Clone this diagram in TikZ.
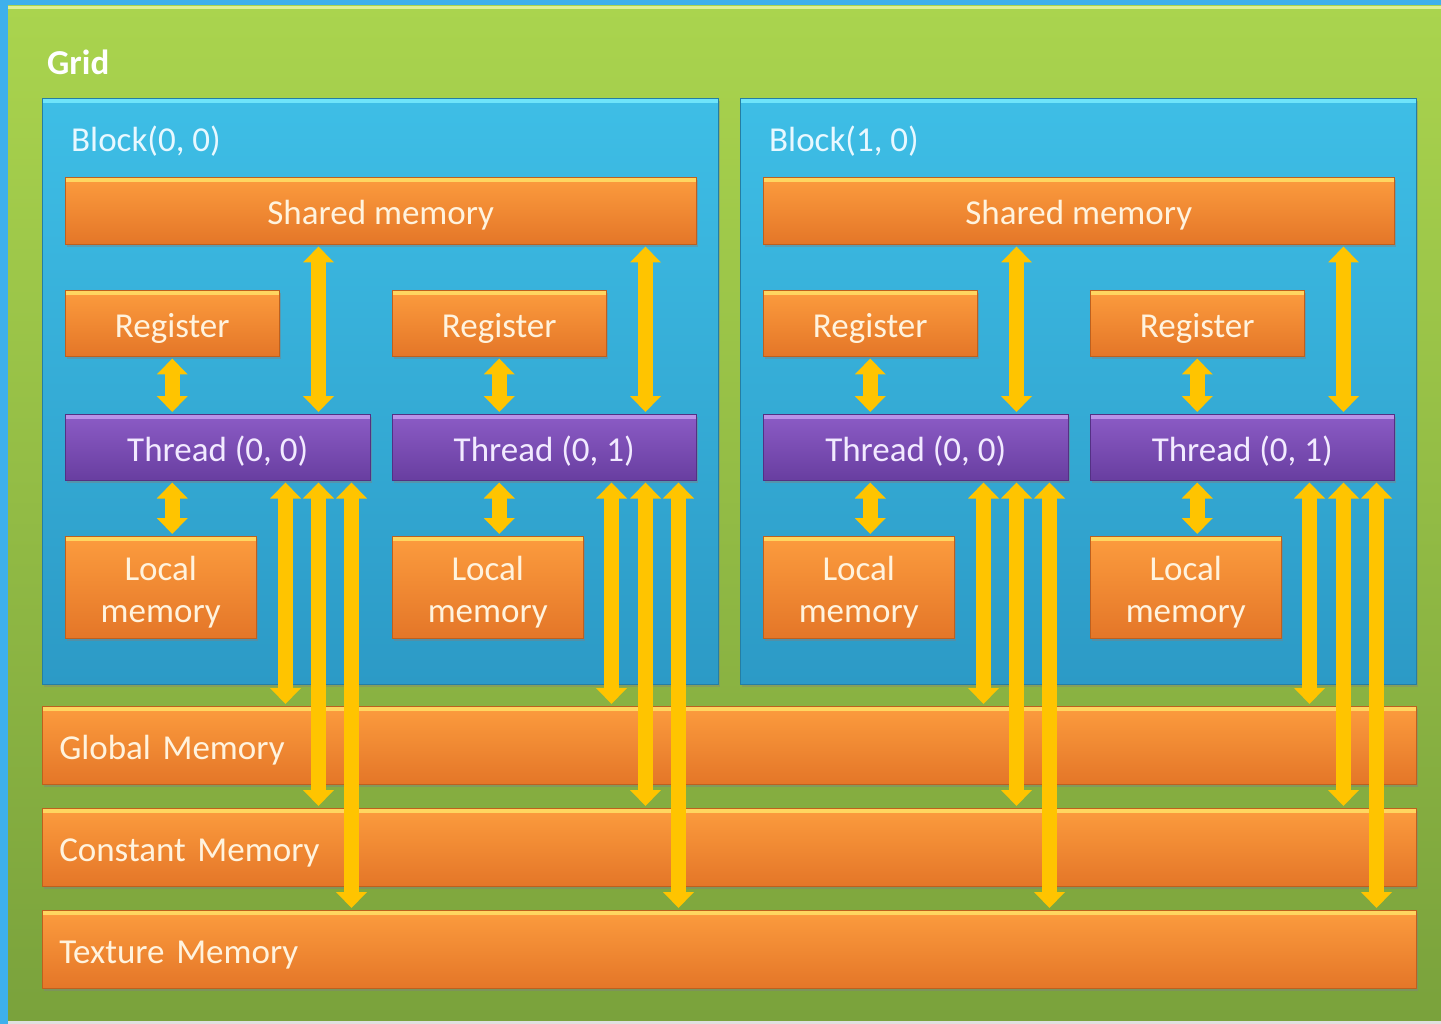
\documentclass[tikz,border=0pt]{standalone}
\usepackage{fontspec}
\setmainfont{Carlito}
\usetikzlibrary{arrows.meta,shadows}

\definecolor{bgblue}{RGB}{62,176,236}
\definecolor{grTop}{RGB}{170,212,78}
\definecolor{grBot}{RGB}{122,162,60}
\definecolor{grHi}{RGB}{222,240,150}
\definecolor{blTop}{RGB}{62,190,230}
\definecolor{blBot}{RGB}{44,154,198}
\definecolor{blEdge}{RGB}{36,126,164}
\definecolor{blHi}{RGB}{110,228,250}
\definecolor{orTop}{RGB}{252,156,62}
\definecolor{orBot}{RGB}{228,118,40}
\definecolor{orEdge}{RGB}{190,96,30}
\definecolor{orHi}{RGB}{255,214,96}
\definecolor{thTop}{RGB}{140,92,198}
\definecolor{thBot}{RGB}{104,62,160}
\definecolor{thEdge}{RGB}{84,48,132}
\definecolor{thHi}{RGB}{186,146,232}
\definecolor{arr}{RGB}{255,196,0}
\definecolor{txtOr}{RGB}{255,243,222}
\definecolor{txtTh}{RGB}{242,234,255}
\definecolor{txtBl}{RGB}{232,248,255}

\newcommand{\lbl}{\fontsize{35}{42}\selectfont}

\begin{document}
\begin{tikzpicture}[x=1pt,y=-1pt,
  hi/.style={path picture={\draw[line width=9pt,#1] (path picture bounding box.north west) -- (path picture bounding box.north east);}},
  mem/.style={anchor=north west,inner sep=0pt,draw=orEdge,line width=.5pt,
    top color=orTop,bottom color=orBot,text=txtOr,font=\lbl,align=center,
    text height=28pt,text depth=0pt,
    drop shadow={shadow xshift=2pt,shadow yshift=-3pt,opacity=.45},hi=orHi},
  thr/.style={mem,draw=thEdge,top color=thTop,bottom color=thBot,text=txtTh,hi=thHi},
  loc/.style={mem,minimum width=191pt,minimum height=102pt,text height=70pt},
  bar/.style={mem,minimum width=1374pt,minimum height=78pt,text width=1340pt,
    align=left,inner xsep=17pt},
  blk/.style={anchor=north west,inner sep=0pt,minimum width=676pt,minimum height=586pt,
    draw=blEdge,line width=.5pt,top color=blTop,bottom color=blBot,
    drop shadow={shadow xshift=2pt,shadow yshift=-3pt,opacity=.4},hi=blHi},
  txt/.style={anchor=west,inner sep=0pt,font=\lbl},
  dbl/.style={{Triangle[width=30pt,length=16pt]}-{Triangle[width=30pt,length=16pt]},
    line width=15pt,draw=arr,shorten <=2pt,shorten >=2pt}]
\useasboundingbox (0,0) rectangle (1441,1024);
\fill[bgblue] (0,0) rectangle (1441,1024);
\fill[black!12] (8,1020) rectangle (1441,1024);
\shade[top color=grTop,bottom color=grBot] (8,6) rectangle (1441,1020);
\draw[grHi,line width=3pt] (8,7.5) -- (1441,7.5);
\node[txt,font=\bfseries\lbl,text=white] (gridlbl) at (47,62) {Grid};
% memories shared by the whole grid
\node[bar] (glob) at (42,706) {Global Memory};
\node[bar] (cons) at (42,808) {Constant Memory};
\node[bar] (tex) at (42,910) {Texture Memory};
% Block(0, 0)
\node[blk] (blkA) at (42,98) {};
\node[txt,text=txtBl] (blkAlbl) at (71,141) {Block(0, 0)};
\node[mem,minimum width=631pt,minimum height=67pt] (shA) at (65,177) {Shared memory};
\node[mem,minimum width=214pt,minimum height=66pt] (regA1) at (65,290) {Register};
\node[mem,minimum width=214pt,minimum height=66pt] (regA2) at (392,290) {Register};
\node[thr,minimum width=305pt,minimum height=66pt] (thA1) at (65,414) {Thread (0, 0)};
\node[thr,minimum width=304pt,minimum height=66pt] (thA2) at (392,414) {Thread (0, 1)};
\node[loc] (locA1) at (65,536) {Local\\memory};
\node[loc] (locA2) at (392,536) {Local\\memory};
\draw[dbl] (regA1.south) -- (regA1.south |- thA1.north);
\draw[dbl] (regA1.south |- thA1.south) -- (regA1.south |- locA1.north);
\draw[dbl] ([xshift=-52pt]thA1.north east) -- ([xshift=-52pt]thA1.north east |- shA.south);
\draw[dbl] ([xshift=-85pt]thA1.south east) -- ([xshift=-85pt]thA1.south east |- glob.north);
\draw[dbl] ([xshift=-52pt]thA1.south east) -- ([xshift=-52pt]thA1.south east |- cons.north);
\draw[dbl] ([xshift=-19pt]thA1.south east) -- ([xshift=-19pt]thA1.south east |- tex.north);
\draw[dbl] (regA2.south) -- (regA2.south |- thA2.north);
\draw[dbl] (regA2.south |- thA2.south) -- (regA2.south |- locA2.north);
\draw[dbl] ([xshift=-51pt]thA2.north east) -- ([xshift=-51pt]thA2.north east |- shA.south);
\draw[dbl] ([xshift=-85pt]thA2.south east) -- ([xshift=-85pt]thA2.south east |- glob.north);
\draw[dbl] ([xshift=-51pt]thA2.south east) -- ([xshift=-51pt]thA2.south east |- cons.north);
\draw[dbl] ([xshift=-18pt]thA2.south east) -- ([xshift=-18pt]thA2.south east |- tex.north);
% Block(1, 0)
\begin{scope}[shift={(698,0)}]
\node[blk] (blkB) at (42,98) {};
\node[txt,text=txtBl] (blkBlbl) at (71,141) {Block(1, 0)};
\node[mem,minimum width=631pt,minimum height=67pt] (shB) at (65,177) {Shared memory};
\node[mem,minimum width=214pt,minimum height=66pt] (regB1) at (65,290) {Register};
\node[mem,minimum width=214pt,minimum height=66pt] (regB2) at (392,290) {Register};
\node[thr,minimum width=305pt,minimum height=66pt] (thB1) at (65,414) {Thread (0, 0)};
\node[thr,minimum width=304pt,minimum height=66pt] (thB2) at (392,414) {Thread (0, 1)};
\node[loc] (locB1) at (65,536) {Local\\memory};
\node[loc] (locB2) at (392,536) {Local\\memory};
\draw[dbl] (regB1.south) -- (regB1.south |- thB1.north);
\draw[dbl] (regB1.south |- thB1.south) -- (regB1.south |- locB1.north);
\draw[dbl] ([xshift=-52pt]thB1.north east) -- ([xshift=-52pt]thB1.north east |- shB.south);
\draw[dbl] ([xshift=-85pt]thB1.south east) -- ([xshift=-85pt]thB1.south east |- glob.north);
\draw[dbl] ([xshift=-52pt]thB1.south east) -- ([xshift=-52pt]thB1.south east |- cons.north);
\draw[dbl] ([xshift=-19pt]thB1.south east) -- ([xshift=-19pt]thB1.south east |- tex.north);
\draw[dbl] (regB2.south) -- (regB2.south |- thB2.north);
\draw[dbl] (regB2.south |- thB2.south) -- (regB2.south |- locB2.north);
\draw[dbl] ([xshift=-51pt]thB2.north east) -- ([xshift=-51pt]thB2.north east |- shB.south);
\draw[dbl] ([xshift=-85pt]thB2.south east) -- ([xshift=-85pt]thB2.south east |- glob.north);
\draw[dbl] ([xshift=-51pt]thB2.south east) -- ([xshift=-51pt]thB2.south east |- cons.north);
\draw[dbl] ([xshift=-18pt]thB2.south east) -- ([xshift=-18pt]thB2.south east |- tex.north);
\end{scope}
\end{tikzpicture}
\end{document}
